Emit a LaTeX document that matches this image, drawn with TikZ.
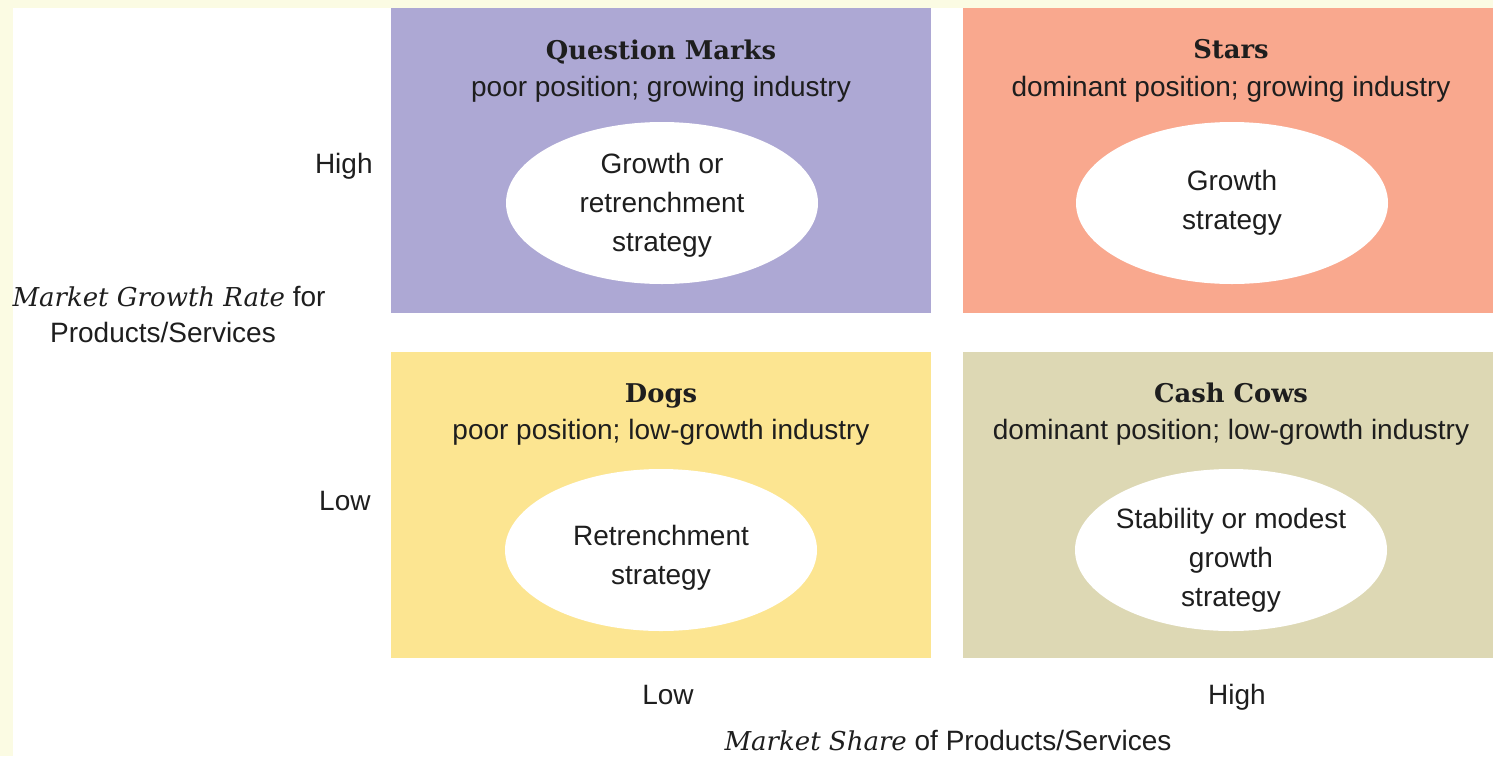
\documentclass[tikz,border=0pt]{standalone}
\usepackage{fontspec}
\setmainfont{Liberation Sans}
\newfontfamily\headfont{DejaVu Serif}
\usetikzlibrary{shapes.geometric}

\definecolor{pagecream}{HTML}{FBFBE3}
\definecolor{qmfill}{HTML}{ADA8D4}
\definecolor{starfill}{HTML}{F9A88E}
\definecolor{dogfill}{HTML}{FCE591}
\definecolor{cowfill}{HTML}{DDD8B4}
\definecolor{inktext}{HTML}{1E1E1E}

\tikzset{
  quadbox/.style={rectangle, draw=none, inner sep=0pt, anchor=north west},
  strat/.style={ellipse, fill=white, draw=none, minimum width=156pt, minimum height=81pt, inner sep=0pt},
  stext/.style={align=center, inner sep=0pt, font=\fontsize{14}{19.5}\selectfont},
  ttl/.style={anchor=base, inner sep=0pt, font=\headfont\bfseries\fontsize{12.9}{15}\selectfont},
  sub/.style={anchor=base, inner sep=0pt, font=\fontsize{14}{17}\selectfont},
  axlab/.style={inner sep=0pt, font=\fontsize{14}{17}\selectfont}
}

\begin{document}
\begin{tikzpicture}[x=0.5pt, y=-0.5pt, every node/.append style={text=inktext}]
  \useasboundingbox (0,0) rectangle (1493,756);
  % page ground with cream margin at left and top
  \fill[pagecream] (0,0) rectangle (1493,756);
  \fill[white] (13,8) rectangle (1493,756);

  % the four quadrants
  \node[quadbox, fill=qmfill,   minimum width=270pt, minimum height=152.5pt] (qm) at (391,8) {};
  \node[quadbox, fill=starfill, minimum width=265pt, minimum height=152.5pt] (st) at (963,8) {};
  \node[quadbox, fill=dogfill,  minimum width=270pt, minimum height=153pt]   (dg) at (391,352) {};
  \node[quadbox, fill=cowfill,  minimum width=265pt, minimum height=153pt]   (cc) at (963,352) {};

  % quadrant headings
  \node[ttl] (qmH) at (661,59)  {Question Marks};
  \node[sub] (qmD) at (661,96)  {poor position; growing industry};
  \node[ttl] (stH) at (1231,58) {Stars};
  \node[sub] (stD) at (1231,96) {dominant position; growing industry};
  \node[ttl] (dgH) at (661,402) {Dogs};
  \node[sub] (dgD) at (661,439) {poor position; low-growth industry};
  \node[ttl] (ccH) at (1231,402) {Cash Cows};
  \node[sub] (ccD) at (1231,439) {dominant position; low-growth industry};

  % strategy ellipses
  \node[strat] (qmE) at (662,203) {};
  \node[stext] (qmT) at (662,205) {Growth or\\retrenchment\\strategy};
  \node[strat] (stE) at (1232,203) {};
  \node[stext] (stT) at (1232,203) {Growth\\strategy};
  \node[strat] (dgE) at (661,550) {};
  \node[stext] (dgT) at (661,558) {Retrenchment\\strategy};
  \node[strat] (ccE) at (1231,550) {};
  \node[stext] (ccT) at (1231,560) {Stability or modest\\growth\\strategy};

  % vertical axis
  \node[axlab, anchor=base east] (yHi) at (373,173) {High};
  \node[axlab, anchor=base east] (yLo) at (371,510) {Low};
  \node[axlab, anchor=base] (yT1) at (169,306) {{\headfont\itshape\fontsize{13}{17}\selectfont Market Growth Rate} for};
  \node[axlab, anchor=base] (yT2) at (163,342) {Products/Services};

  % horizontal axis
  \node[axlab, anchor=base] (xLo) at (668,704) {Low};
  \node[axlab, anchor=base] (xHi) at (1237,704) {High};
  \node[axlab, anchor=base] (xT) at (948,750) {{\headfont\itshape\fontsize{13}{17}\selectfont Market Share} of Products/Services};
\end{tikzpicture}
\end{document}
